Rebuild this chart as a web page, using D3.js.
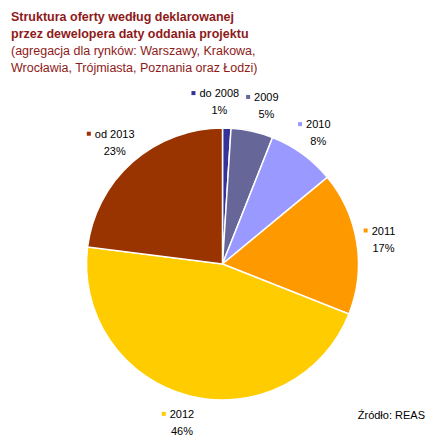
<!DOCTYPE html>
<html>
<head>
<meta charset="utf-8">
<script src="https://cdn.jsdelivr.net/npm/d3@7"></script>
<style>
  body { margin: 0; background: #fff; }
  text { font-family: "Liberation Sans", Arial, sans-serif; }
</style>
</head>
<body>
<svg id="chart"></svg>
<script>
// data
var categories = ["do 2008", "2009", "2010", "2011", "2012", "od 2013"]
var values = [1, 5, 8, 17, 46, 23]
var colors = ["#333399", "#666699", "#9999ff", "#ff9900", "#ffcc00", "#993300"]
var titleLines = [
  "Struktura oferty według deklarowanej",
  "przez dewelopera daty oddania projektu",
  "(agregacja dla rynków: Warszawy, Krakowa,",
  "Wrocławia, Trójmiasta, Poznania oraz Łodzi)"
]
var source = "Źródło: REAS"

var dimensions = {
  width: 430,
  height: 436,
  cx: 222.5,
  cy: 264,
  radius: 136,
  labelRadius: 163
}

var svg = d3.select("#chart")
  .attr("width", dimensions.width)
  .attr("height", dimensions.height)

// title
svg.selectAll(".title")
  .data(titleLines)
  .enter()
  .append("text")
  .attr("class", "title")
  .attr("x", 11)
  .attr("y", (d, i) => 21 + i * 17)
  .attr("fill", "#8e1a1a")
  .style("font-size", "12.5px")
  .style("font-weight", (d, i) => i < 2 ? "bold" : "normal")
  .text(d => d)

var data = categories.map((c, i) => ({name: c, value: values[i], color: colors[i]}))

var pie = d3.pie()
  .value(d => d.value)
  .sort(null)

var arcs = pie(data)

var arc = d3.arc()
  .innerRadius(0)
  .outerRadius(dimensions.radius)

var labelArc = d3.arc()
  .innerRadius(dimensions.labelRadius)
  .outerRadius(dimensions.labelRadius)

var g = svg.append("g")
  .attr("transform", "translate(" + dimensions.cx + "," + dimensions.cy + ")")

g.selectAll("path")
  .data(arcs)
  .enter()
  .append("path")
  .attr("d", arc)
  .attr("fill", d => d.data.color)
  .attr("stroke", "#fff")
  .attr("stroke-width", 1.5)

// label positions from the arc, then push apart the ones that collide
var labels = arcs.map(function(a) {
  var c = labelArc.centroid(a)
  return {x: c[0], y: c[1], a: a, w: a.data.name.length * 6 + 10}
})
for (var i = 1; i < labels.length; i++) {
  var p = labels[i - 1], q = labels[i]
  var overlap = (p.x + p.w / 2) - (q.x - q.w / 2) + 4
  if (overlap > 0 && Math.abs(p.y - q.y) < 30) {
    p.x -= overlap / 2
    q.x += overlap / 2
  }
}

var lg = g.selectAll(".lbl")
  .data(labels)
  .enter()
  .append("g")
  .attr("class", "lbl")
  .attr("transform", d => "translate(" + d.x + "," + d.y + ")")

lg.append("text")
  .attr("text-anchor", "middle")
  .attr("y", -4)
  .style("font-size", "11px")
  .attr("fill", "#000")
  .text(d => d.a.data.name)
  .each(function(d) {
    var bb = this.getBBox()
    d3.select(this.parentNode).append("rect")
      .attr("x", bb.x - 8)
      .attr("y", -10)
      .attr("width", 4)
      .attr("height", 4)
      .attr("fill", d.a.data.color)
  })

lg.append("text")
  .attr("text-anchor", "middle")
  .attr("y", 13)
  .style("font-size", "11px")
  .attr("fill", "#000")
  .text(d => d.a.data.value + "%")

svg.append("text")
  .attr("x", 425)
  .attr("y", 419)
  .attr("text-anchor", "end")
  .style("font-size", "11px")
  .attr("fill", "#000")
  .text(source)
</script>
</body>
</html>
